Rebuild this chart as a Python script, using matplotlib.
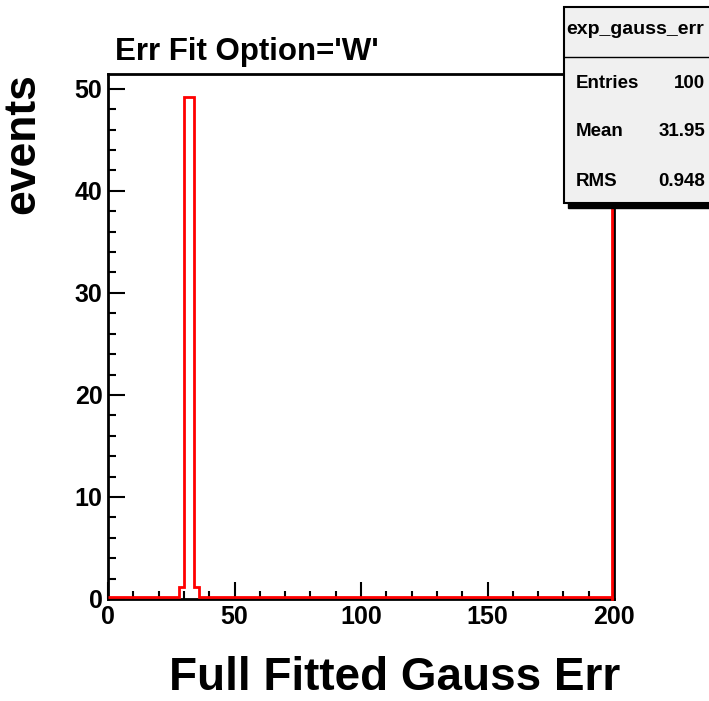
import numpy as np
import matplotlib.pyplot as plt
from matplotlib.patches import Rectangle
from matplotlib.lines import Line2D
from matplotlib.transforms import offset_copy

# histogram: 100 bins of width 2 over [0, 200]
x_min, x_max, n_bins = 0, 200, 100
filled_bin_lo = [28, 30, 32, 34]
filled_counts = [1, 49, 49, 1]

stat_names = ['Entries', 'Mean', 'RMS']
stat_values = ['100', '31.95', '0.948']
hist_name = 'exp_gauss_err'

edges = np.linspace(x_min, x_max, n_bins + 1)
counts = np.zeros(n_bins)
for lo, c in zip(filled_bin_lo, filled_counts):
    counts[np.searchsorted(edges, lo)] = c

plt.rcParams['font.family'] = ['Liberation Sans', 'DejaVu Sans']
plt.rcParams['font.weight'] = 'bold'

W, H = 709, 701
fig = plt.figure(figsize=(W / 100, H / 100), dpi=100)
ax = fig.add_axes([108 / W, 1 - 599 / H, (614 - 108) / W, (599 - 74) / H])

# red outline sits just inside the black frame, as in the ROOT output
ax.stairs(counts, edges, color='red', lw=2, zorder=3,
          transform=offset_copy(ax.transData, fig, x=0, y=2, units='dots'))
ax.plot([edges[-1], edges[-1]], [0, 1], color='red', lw=2, zorder=3, clip_on=False,
        transform=offset_copy(ax.get_xaxis_transform(), fig, x=-2, y=0, units='dots'))

ax.set_xlim(x_min, x_max)
ax.set_ylim(0, counts.max() * 1.05)
ax.set_xticks([0, 50, 100, 150, 200])
ax.set_xticks(np.arange(0, 201, 10), minor=True)
ax.set_yticks([0, 10, 20, 30, 40, 50])
ax.set_yticks(np.arange(0, 52, 2), minor=True)
ax.tick_params(which='both', direction='in', top=False, right=False, width=1.5)
ax.tick_params(which='major', length=12, labelsize=18, pad=4)
ax.tick_params(which='minor', length=6)
for lab in ax.get_xticklabels() + ax.get_yticklabels():
    lab.set_fontweight('bold')
for s in ax.spines.values():
    s.set_linewidth(2)

fig.text(115 / W, 1 - 60 / H, "Err Fit Option='W'", fontsize=22.5, fontweight='bold',
         ha='left', va='baseline')
fig.text(620 / W, 1 / H, 'Full Fitted Gauss Err', fontsize=33, fontweight='bold',
         ha='right', va='bottom')
fig.text(43 / W, 1 - 73 / H, 'events', fontsize=32, fontweight='bold',
         rotation=90, ha='right', va='top')

# stats box
bx0, bx1 = 564 / W, 1.02
by0, by1 = 1 - 203 / H, 1 - 7 / H
fig.patches.append(Rectangle((bx0 + 4 / W, by0 - 5 / H), bx1 - bx0, by1 - by0,
                             transform=fig.transFigure, facecolor='black',
                             edgecolor='black', zorder=5))
fig.patches.append(Rectangle((bx0, by0), bx1 - bx0, by1 - by0,
                             transform=fig.transFigure, facecolor='#f0f0f0',
                             edgecolor='black', lw=1.5, zorder=6))
fig.lines.append(Line2D([bx0, 1], [1 - 57 / H] * 2, transform=fig.transFigure,
                        color='black', lw=1, zorder=7))
fig.text(635 / W, 1 - 30 / H, hist_name, fontsize=14, fontweight='bold',
         ha='center', va='center', zorder=8)
row_y = [83, 132, 182]
for name, val, yy in zip(stat_names, stat_values, row_y):
    fig.text(576 / W, 1 - yy / H, name, fontsize=13.5, fontweight='bold',
             ha='left', va='center', zorder=8)
    fig.text(705 / W, 1 - yy / H, val, fontsize=13.5, fontweight='bold',
             ha='right', va='center', zorder=8)

fig.savefig('out.png', dpi=100, facecolor='white')
